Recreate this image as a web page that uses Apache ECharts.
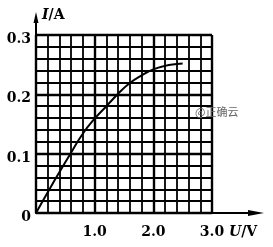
<!DOCTYPE html>
<html><head><meta charset="utf-8">
<script src="https://cdn.jsdelivr.net/npm/echarts@6/dist/echarts.min.js"></script>
<style>html,body{margin:0;padding:0;background:#fff}#c{width:273px;height:247px}</style>
</head><body><div id="c"></div>
<script>
// Data
var voltage = [0, 0.2, 0.4, 0.6, 0.8, 1.0, 1.2, 1.4, 1.6, 1.8, 2.0, 2.2, 2.4, 2.5];
var current = [0, 0.035, 0.069, 0.102, 0.134, 0.159, 0.180, 0.201, 0.219, 0.232, 0.242, 0.248, 0.251, 0.252];
var xRange = [0, 3.0];
var yRange = [0, 0.3];
var xName = 'U/V';
var yName = 'I/A';
var watermark = '@正确云';

var chart = echarts.init(document.getElementById('c'), null, {renderer: 'canvas'});
var font = 'DejaVu Serif';
var fs = 14;
var seriesData = voltage.map(function (u, i) { return [u, current[i]]; });

var option = {
  animation: false,
  grid: {left: 36, top: 35, width: 176, height: 178, containLabel: false},
  xAxis: {
    type: 'value', min: xRange[0], max: xRange[1], interval: 1.0,
    axisLine: {show: true, onZero: false, lineStyle: {color: '#000', width: 2}},
    axisTick: {show: false},
    minorTick: {show: false, splitNumber: 5},
    splitLine: {show: true, lineStyle: {color: '#000', width: 2.4}},
    minorSplitLine: {show: true, lineStyle: {color: '#000', width: 1.8}},
    axisLabel: {
      showMinLabel: false, margin: 12,
      fontFamily: font, fontWeight: 'bold', fontSize: fs, color: '#000',
      formatter: function (v) { return v.toFixed(1); }
    }
  },
  yAxis: {
    type: 'value', min: yRange[0], max: yRange[1], interval: 0.1,
    axisLine: {show: true, onZero: false, lineStyle: {color: '#000', width: 2}},
    axisTick: {show: false},
    minorTick: {show: false, splitNumber: 5},
    splitLine: {show: true, lineStyle: {color: '#000', width: 2.4}},
    minorSplitLine: {show: true, lineStyle: {color: '#000', width: 1.8}},
    axisLabel: {
      margin: 5, verticalAlign: 'top', lineHeight: 9,
      fontFamily: font, fontWeight: 'bold', fontSize: fs, color: '#000',
      formatter: function (v) { return v === 0 ? '0' : v.toFixed(1); }
    }
  },
  series: [{
    type: 'line', data: seriesData, smooth: true, symbol: 'none',
    lineStyle: {color: '#000', width: 2}, z: 5
  }]
};
chart.setOption(option);

var o = chart.convertToPixel({gridIndex: 0}, [xRange[0], yRange[0]]);
var t = chart.convertToPixel({gridIndex: 0}, [xRange[0], yRange[1]]);
var r = chart.convertToPixel({gridIndex: 0}, [xRange[1], yRange[0]]);
var yTip = [o[0], t[1] - 23];
var xTip = [r[0] + 52, o[1]];
function axisNameText(name) {
  var p = name.split('/');
  return {
    text: '{i|' + p[0] + '}{n|/' + p[1] + '}',
    rich: {i: {fontFamily: font, fontWeight: 'bold', fontStyle: 'italic', fontSize: fs, fill: '#000'},
           n: {fontFamily: font, fontWeight: 'bold', fontSize: fs, fill: '#000'}}
  };
}

chart.setOption({
  graphic: [
    {type: 'line', shape: {x1: o[0], y1: t[1], x2: yTip[0], y2: yTip[1] + 6}, style: {stroke: '#000', lineWidth: 2}},
    {type: 'polygon', shape: {points: [[yTip[0], yTip[1]], [yTip[0] - 2.5, yTip[1] + 11], [yTip[0] + 2.5, yTip[1] + 11]]}, style: {fill: '#000'}},
    {type: 'line', shape: {x1: r[0], y1: o[1], x2: xTip[0] - 8, y2: xTip[1]}, style: {stroke: '#000', lineWidth: 2}},
    {type: 'polygon', shape: {points: [[xTip[0], xTip[1]], [xTip[0] - 16, xTip[1] - 3], [xTip[0] - 16, xTip[1] + 3]]}, style: {fill: '#000'}},
    {type: 'text', left: yTip[0] + 6, top: yTip[1] - 4, style: axisNameText(yName)},
    {type: 'text', left: r[0] + 17, top: o[1] + 12, style: axisNameText(xName)},
    {type: 'text', left: 195, top: 106, z: 10,
     style: {text: watermark, fontFamily: 'Noto Sans CJK SC', fontSize: 11, fill: '#666'}}
  ]
});
</script></body></html>
